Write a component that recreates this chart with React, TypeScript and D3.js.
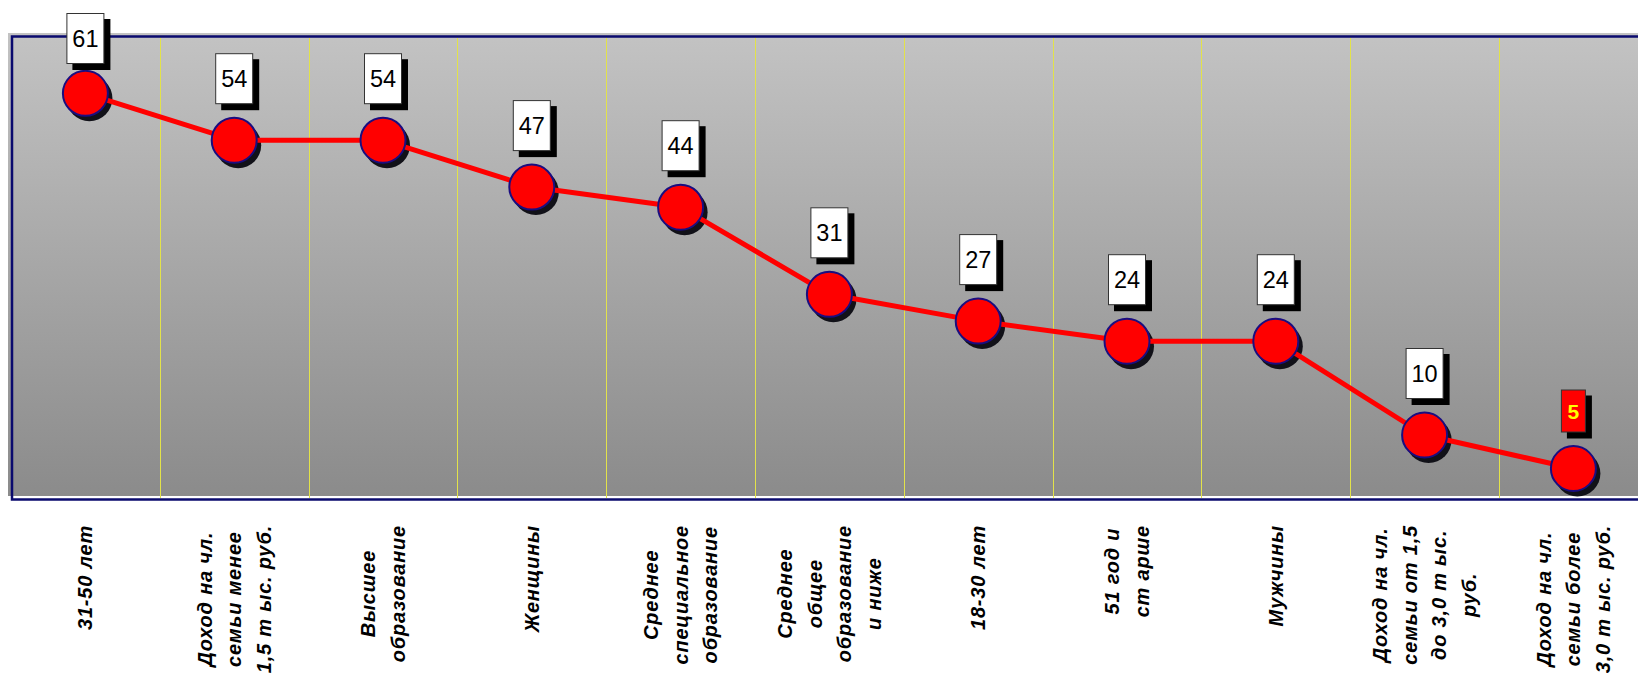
import React, { useEffect, useRef } from "react";
import * as d3 from "d3";

// Category labels, one entry per line of the rotated caption
const labelLines: string[][] = [
  ["31-50 лет"],
  ["Доход на чл.", "семьи менее", "1,5 т ыс. руб."],
  ["Высшее", "образование"],
  ["Женщины"],
  ["Среднее", "специальное", "образование"],
  ["Среднее", "общее", "образование", "и ниже"],
  ["18-30 лет"],
  ["51 год и", "ст арше"],
  ["Мужчины"],
  ["Доход на чл.", "семьи от  1,5", "до 3,0 т ыс.", "руб."],
  ["Доход  на чл.", "семьи более", "3,0 т ыс. руб."],
];
const categories: string[] = labelLines.map((l) => l.join(" "));
const values: number[] = [61, 54, 54, 47, 44, 31, 27, 24, 24, 10, 5];
const highlightCategory = categories[10];

const W = 1638;
const H = 681;

export default function App() {
  const ref = useRef<SVGSVGElement | null>(null);

  useEffect(() => {
    const svg = d3.select(ref.current);
    svg.selectAll("*").remove();

    const plotLeft = 11;
    const bandW = 148.8;
    const x = d3
      .scaleBand<string>()
      .domain(categories)
      .range([plotLeft, plotLeft + bandW * categories.length])
      .padding(0);
    const y = d3.scaleLinear().domain([0, 70]).range([502, 33]);
    const cx = (c: string) => (x(c) ?? 0) + x.bandwidth() / 2;

    const defs = svg.append("defs");
    const grad = defs
      .append("linearGradient")
      .attr("id", "plotBg")
      .attr("x1", 0)
      .attr("y1", 0)
      .attr("x2", 0)
      .attr("y2", 1);
    grad.append("stop").attr("offset", "0%").attr("stop-color", "#c3c3c3");
    grad.append("stop").attr("offset", "100%").attr("stop-color", "#8b8b8b");

    // plot background and frame
    svg
      .append("rect")
      .attr("x", 8)
      .attr("y", 33)
      .attr("width", 1660)
      .attr("height", 463)
      .attr("fill", "url(#plotBg)");
    svg
      .append("rect")
      .attr("x", 12)
      .attr("y", 36.5)
      .attr("width", 1660)
      .attr("height", 463)
      .attr("fill", "none")
      .attr("stroke", "#0a0a6e")
      .attr("stroke-width", 2.5);

    // vertical separators between categories
    svg
      .append("g")
      .selectAll("line")
      .data(categories.slice(1))
      .join("line")
      .attr("x1", (d) => Math.round(x(d) ?? 0) + 0.5)
      .attr("x2", (d) => Math.round(x(d) ?? 0) + 0.5)
      .attr("y1", 38)
      .attr("y2", 498)
      .attr("stroke", "#e2e24a")
      .attr("stroke-width", 1);

    const pts = categories.map((c, i) => ({ c, v: values[i], px: cx(c), py: y(values[i]) }));

    // marker shadows
    svg
      .append("g")
      .selectAll("circle")
      .data(pts)
      .join("circle")
      .attr("cx", (d) => d.px + 4)
      .attr("cy", (d) => d.py + 5)
      .attr("r", 23)
      .attr("fill", "#111118");

    // connecting line
    const line = d3
      .line<{ px: number; py: number }>()
      .x((d) => d.px)
      .y((d) => d.py);
    svg
      .append("path")
      .datum(pts)
      .attr("d", line)
      .attr("fill", "none")
      .attr("stroke", "#ff0000")
      .attr("stroke-width", 5)
      .attr("stroke-linejoin", "round");

    // markers
    svg
      .append("g")
      .selectAll("circle")
      .data(pts)
      .join("circle")
      .attr("cx", (d) => d.px)
      .attr("cy", (d) => d.py)
      .attr("r", 22.5)
      .attr("fill", "#ff0000")
      .attr("stroke", "#1a0d80")
      .attr("stroke-width", 2);

    // value boxes
    const boxes = svg
      .append("g")
      .selectAll("g")
      .data(pts)
      .join("g")
      .attr("transform", (d) => {
        const hl = d.c === highlightCategory;
        const h = hl ? 43 : 51;
        const top = Math.max(13, d.py - 36 - h);
        return `translate(${d.px},${top})`;
      });
    boxes.each(function (d) {
      const g = d3.select(this);
      const hl = d.c === highlightCategory;
      const w = hl ? 25 : 38;
      const h = hl ? 43 : 51;
      g.append("rect")
        .attr("x", -w / 2 + 6)
        .attr("y", 6)
        .attr("width", w)
        .attr("height", h)
        .attr("fill", "#000");
      g.append("rect")
        .attr("x", -w / 2 + 0.5)
        .attr("y", 0.5)
        .attr("width", w - 1)
        .attr("height", h - 1)
        .attr("fill", hl ? "#ff0000" : "#ffffff")
        .attr("stroke", "#333")
        .attr("stroke-width", 1);
      g.append("text")
        .attr("x", 0)
        .attr("y", h / 2)
        .attr("dy", "0.36em")
        .attr("text-anchor", "middle")
        .attr("font-family", "'Liberation Sans', Arial, sans-serif")
        .attr("font-size", hl ? 21 : 23.5)
        .attr("font-weight", hl ? "bold" : "normal")
        .attr("fill", hl ? "#ffff00" : "#000")
        .text(d.v);
    });

    // rotated category captions
    const lineH = 29.5;
    const capTop = 525;
    const caps = svg.append("g");
    categories.forEach((c, i) => {
      const lines = labelLines[i];
      const g = caps.append("g");
      const texts = lines.map((t) =>
        g
          .append("text")
          .attr("text-anchor", "middle")
          .attr("font-family", "'Liberation Sans', Arial, sans-serif")
          .attr("font-size", 20)
          .attr("font-weight", "bold")
          .attr("font-style", "italic")
          .attr("letter-spacing", 0.8)
          .attr("fill", "#000")
          .attr("dy", "0.35em")
          .text(t)
      );
      const lens = texts.map((t) => (t.node() as SVGTextElement).getComputedTextLength());
      const maxLen = Math.min(d3.max(lens) ?? 0, 150);
      const cyMid = capTop + maxLen / 2;
      texts.forEach((t, j) => {
        const lx = cx(c) + (j - (lines.length - 1) / 2) * lineH;
        t.attr("transform", `translate(${lx},${cyMid}) rotate(-90)`);
      });
    });
  }, []);

  return (
    <svg
      ref={ref}
      width={W}
      height={H}
      style={{ position: "absolute", left: 0, top: 0, display: "block", background: "#fff" }}
    />
  );
}
